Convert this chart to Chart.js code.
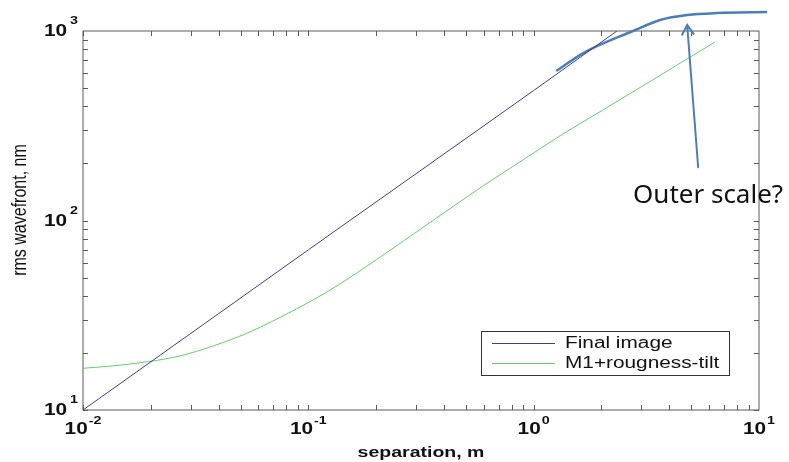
<!DOCTYPE html>
<html>
<head>
<meta charset="utf-8">
<script src="https://cdn.jsdelivr.net/npm/chart.js@4.4.1/dist/chart.umd.min.js"></script>
<style>
    html, body { margin: 0; padding: 0; background: #fff; }
</style>
</head>
<body>
<canvas id="myChartWavefront" width="789" height="462"></canvas>
<script>
// Daten: Abstand in m (x) und rms Wellenfront in nm (y)
const finalX = [0.01, 0.1, 1.0, 2.34];
const finalY = [10, 70, 485, 1000];
const m1X = [0.01, 0.0136, 0.0195, 0.027, 0.0379, 0.0533, 0.0749, 0.105, 0.136, 0.2, 0.357, 0.6, 0.87, 1.31, 2.0, 3.5, 6.38];
const m1Y = [16.6, 17.1, 18.0, 19.3, 21.8, 25.4, 30.8, 38.1, 45.7, 62, 100, 153, 204, 280, 379, 567, 875];
// Handgezeichnete Kurve "Outer scale"
const outerX = [1.26, 1.66, 2.76, 3.64, 4.8, 6.52, 10.86];
const outerY = [615, 765, 1000, 1143, 1214, 1244, 1259];
const seriesLabels = ["Final image", "M1+rougness-tilt"];
const xTickExp = [-2, -1, 0, 1];
const yTickExp = [1, 2, 3];
// Pfeil und Notiz (in Datenkoordinaten)
const arrowFrom = [5.37, 191];
const arrowTo = [4.8, 1076];
const noteText = "Outer scale?";
const notePos = [2.76, 125];

const blue = '#3d3d9a';
const green = '#62d062';
const pptBlue = '#4a7ebb';
const stretch = 1.3;

let myChartWavefront = undefined;

function toPoints(xs, ys) {
    return xs.map((x, i) => ({x: x, y: ys[i]}));
}

// Text horizontal gestreckt zeichnen
function stretchedText(ctx, text, x, y, font, align, base) {
    ctx.save();
    ctx.font = font;
    ctx.textAlign = align;
    ctx.textBaseline = base;
    ctx.translate(x, y);
    ctx.scale(stretch, 1);
    ctx.fillText(text, 0, 0);
    ctx.restore();
}

function powWidths(ctx, exp) {
    ctx.font = 'bold 16px "Liberation Sans", Arial';
    const wb = ctx.measureText('10').width * stretch;
    ctx.font = 'bold 11px "Liberation Sans", Arial';
    const ws = ctx.measureText(String(exp)).width * stretch;
    return [wb, ws];
}

const frame = {
    id: 'frame',
    beforeDatasetsDraw(chart) {
        const {ctx, chartArea: a, scales: {x, y}} = chart;
        ctx.save();
        ctx.strokeStyle = '#5a5a5a';
        ctx.lineWidth = 1;
        ctx.strokeRect(a.left, a.top, a.right - a.left, a.bottom - a.top);
        const len = 5;
        ctx.beginPath();
        for (let e = xTickExp[0]; e < xTickExp[xTickExp.length - 1]; e++) {
            for (let m = 1; m <= 9; m++) {
                const px = Math.round(x.getPixelForValue(m * Math.pow(10, e))) + 0.5;
                ctx.moveTo(px, a.bottom); ctx.lineTo(px, a.bottom - len);
                ctx.moveTo(px, a.top); ctx.lineTo(px, a.top + len);
            }
        }
        for (let e = yTickExp[0]; e < yTickExp[yTickExp.length - 1]; e++) {
            for (let m = 1; m <= 9; m++) {
                const py = Math.round(y.getPixelForValue(m * Math.pow(10, e))) + 0.5;
                ctx.moveTo(a.left, py); ctx.lineTo(a.left + len, py);
                ctx.moveTo(a.right, py); ctx.lineTo(a.right - len, py);
            }
        }
        ctx.stroke();
        ctx.restore();
    },
    afterDraw(chart) {
        const {ctx, chartArea: a, scales: {x, y}} = chart;
        ctx.save();
        ctx.fillStyle = '#111';

        // Achsenbeschriftung 10^n
        xTickExp.forEach((e) => {
            const px = x.getPixelForValue(Math.pow(10, e));
            const [wb, ws] = powWidths(ctx, e);
            const left = px - (wb + ws + 1) / 2;
            stretchedText(ctx, '10', left, a.bottom + 20, 'bold 16px "Liberation Sans", Arial', 'left', 'middle');
            stretchedText(ctx, String(e), left + wb + 1, a.bottom + 11, 'bold 11px "Liberation Sans", Arial', 'left', 'middle');
        });
        yTickExp.forEach((e) => {
            const py = y.getPixelForValue(Math.pow(10, e));
            const [wb, ws] = powWidths(ctx, e);
            const right = a.left - 5;
            stretchedText(ctx, String(e), right, py - 10, 'bold 11px "Liberation Sans", Arial', 'right', 'middle');
            stretchedText(ctx, '10', right - ws - 3, py + 1, 'bold 16px "Liberation Sans", Arial', 'right', 'middle');
        });

        // Achsentitel
        stretchedText(ctx, 'separation, m', (a.left + a.right) / 2, a.bottom + 43, 'bold 15px "Liberation Sans", Arial', 'center', 'middle');
        ctx.save();
        ctx.translate(20, 210);
        ctx.rotate(-Math.PI / 2);
        ctx.scale(1, stretch);
        ctx.font = '16px "Liberation Sans", Arial';
        ctx.textAlign = 'center';
        ctx.textBaseline = 'middle';
        ctx.fillText('rms wavefront, nm', 0, 0);
        ctx.restore();

        // Legende
        const lx = 481, ly = 331, lw = 248, lh = 44;
        ctx.fillStyle = '#fff';
        ctx.fillRect(lx, ly, lw, lh);
        ctx.strokeStyle = '#333';
        ctx.lineWidth = 1;
        ctx.strokeRect(lx + 0.5, ly + 0.5, lw, lh);
        [blue, green].forEach((c, i) => {
            const ry = ly + 12 + i * 20;
            ctx.strokeStyle = c;
            ctx.beginPath();
            ctx.moveTo(492, ry + 0.5);
            ctx.lineTo(555, ry + 0.5);
            ctx.stroke();
            ctx.fillStyle = '#111';
            stretchedText(ctx, seriesLabels[i], 565, ry + 1, '16px "Liberation Sans", Arial', 'left', 'middle');
        });

        // Pfeil
        const fx = x.getPixelForValue(arrowFrom[0]), fy = y.getPixelForValue(arrowFrom[1]);
        const tx = x.getPixelForValue(arrowTo[0]), ty = y.getPixelForValue(arrowTo[1]);
        const ang = Math.atan2(ty - fy, tx - fx);
        ctx.strokeStyle = pptBlue;
        ctx.lineWidth = 2;
        ctx.lineCap = 'round';
        ctx.beginPath();
        ctx.moveTo(fx, fy);
        ctx.lineTo(tx, ty);
        ctx.moveTo(tx - 11 * Math.cos(ang - 0.55), ty - 11 * Math.sin(ang - 0.55));
        ctx.lineTo(tx, ty);
        ctx.lineTo(tx - 11 * Math.cos(ang + 0.55), ty - 11 * Math.sin(ang + 0.55));
        ctx.stroke();

        // Notiz
        ctx.fillStyle = '#111';
        ctx.font = '26px "Noto Sans"';
        ctx.textAlign = 'left';
        ctx.textBaseline = 'alphabetic';
        ctx.fillText(noteText, x.getPixelForValue(notePos[0]), y.getPixelForValue(notePos[1]) + 1);
        ctx.restore();
    }
};

plotWavefront();

function plotWavefront() {
    const ctx = document.getElementById("myChartWavefront");
    myChartWavefront = new Chart(ctx, {
        type: 'scatter',
        data: {
            datasets: [{
                label: seriesLabels[0],
                data: toPoints(finalX, finalY),
                showLine: true,
                borderColor: blue,
                borderWidth: 1,
                pointRadius: 0
            }, {
                label: seriesLabels[1],
                data: toPoints(m1X, m1Y),
                showLine: true,
                borderColor: green,
                borderWidth: 1,
                pointRadius: 0,
                cubicInterpolationMode: 'monotone'
            }, {
                label: 'outer',
                data: toPoints(outerX, outerY),
                showLine: true,
                borderColor: pptBlue,
                borderWidth: 2.5,
                pointRadius: 0,
                cubicInterpolationMode: 'monotone',
                clip: false
            }]
        },
        options: {
            responsive: false,
            animation: false,
            devicePixelRatio: 1,
            layout: {padding: {left: 83, right: 30, top: 31, bottom: 52}},
            scales: {
                x: {type: 'logarithmic', min: 0.01, max: 10, display: false},
                y: {type: 'logarithmic', min: 10, max: 1000, display: false}
            },
            plugins: {
                legend: {display: false},
                tooltip: {enabled: false}
            }
        },
        plugins: [frame]
    });
}
</script>
</body>
</html>
